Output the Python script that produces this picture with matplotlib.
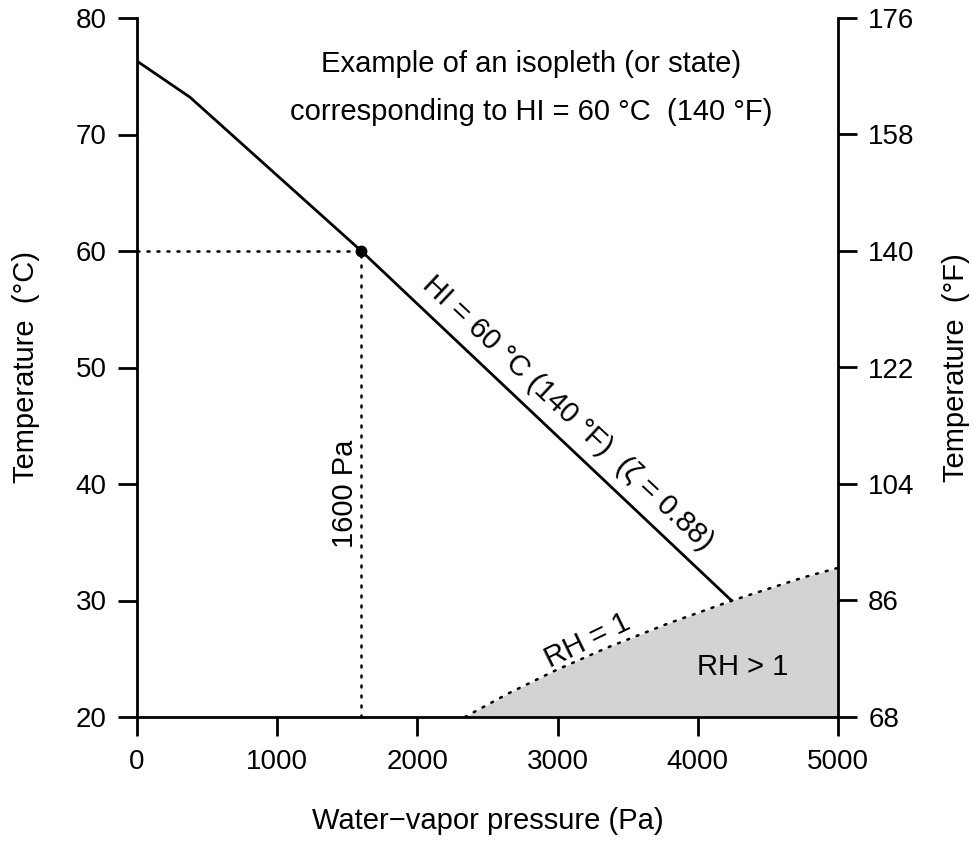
import matplotlib
matplotlib.use('Agg')
import matplotlib.pyplot as plt

plt.rcParams['font.family'] = ['Liberation Sans', 'DejaVu Sans']

# isopleth HI = 60 C
iso_pressure = [0, 378, 1600, 4240]
iso_temp = [76.3, 73.2, 60.0, 30.0]

# saturation curve (RH = 1)
sat_pressure = [2339, 2645, 2985, 3363, 3782, 4246, 4758, 5000]
sat_temp = [20, 22, 24, 26, 28, 30, 32, 32.8]

point_p, point_t = 1600, 60
x_ticks = [0, 1000, 2000, 3000, 4000, 5000]
left_ticks = [20, 30, 40, 50, 60, 70, 80]
right_ticks = [68, 86, 104, 122, 140, 158, 176]

fig = plt.figure(figsize=(9.72, 8.41), dpi=100)
ax = fig.add_axes([137/972, 1 - 717/841, 701/972, 699/841])
ax.set_xlim(0, 5000)
ax.set_ylim(20, 80)

dots = dict(color='black', ls=(0, (0.8, 3.2)), lw=1.8, dash_capstyle='round')

# shaded RH > 1 region
ax.fill_between(sat_pressure + [5000], sat_temp + [20], [20] * (len(sat_pressure) + 1),
                color='#d3d3d3', lw=0)
ax.plot(sat_pressure, sat_temp, **dots)

ax.plot(iso_pressure, iso_temp, color='black', lw=2)
ax.plot([0, point_p], [point_t, point_t], **dots)
ax.plot([point_p, point_p], [20, point_t], **dots)
ax.plot(point_p, point_t, 'o', color='black', ms=7.5)

fs = 21
ax.text(2810, 75.36, 'Example of an isopleth (or state)', ha='center', va='baseline', fontsize=fs)
ax.text(2810, 71.24, 'corresponding to HI = 60 °C  (140 °F)', ha='center', va='baseline', fontsize=fs)
ax.text(3074, 46.1, 'HI = 60 °C (140 °F)  (ζ = 0.88)', ha='center', va='center',
        fontsize=fs, rotation=-43.2, rotation_mode='anchor')
ax.text(1484, 39.2, '1600 Pa', ha='center', va='center', fontsize=fs, rotation=90)
ax.text(3210, 26.5, 'RH = 1', ha='center', va='center', fontsize=fs, rotation=26,
        rotation_mode='anchor')
ax.text(4322, 24.3, 'RH > 1', ha='center', va='center', fontsize=fs)

ax.spines['top'].set_visible(False)
ax.spines['right'].set_visible(False)
for s in ['left', 'bottom']:
    ax.spines[s].set_linewidth(2)
ax.set_xticks(x_ticks)
ax.set_yticks(left_ticks)
ax.tick_params(direction='out', length=13.7, width=2, labelsize=20, pad=8)
ax.tick_params(axis='x', pad=9.5)
ax.set_xlabel('Water\u2212vapor pressure (Pa)', fontsize=fs)
ax.xaxis.set_label_coords(0.5, -0.1288)
ax.set_ylabel('Temperature  (°C)', fontsize=fs)
ax.yaxis.set_label_coords(-0.138, 0.5)

ax2 = ax.twinx()
ax2.set_ylim(68, 176)
ax2.set_yticks(right_ticks)
ax2.spines['top'].set_visible(False)
ax2.spines['left'].set_visible(False)
ax2.spines['bottom'].set_visible(False)
ax2.spines['right'].set_linewidth(2)
ax2.tick_params(direction='out', length=13.7, width=2, labelsize=20, pad=8)
ax2.set_ylabel('Temperature  (°F)', fontsize=fs)
ax2.yaxis.set_label_coords(1.148, 0.5)

fig.savefig('out.png', dpi=100)
